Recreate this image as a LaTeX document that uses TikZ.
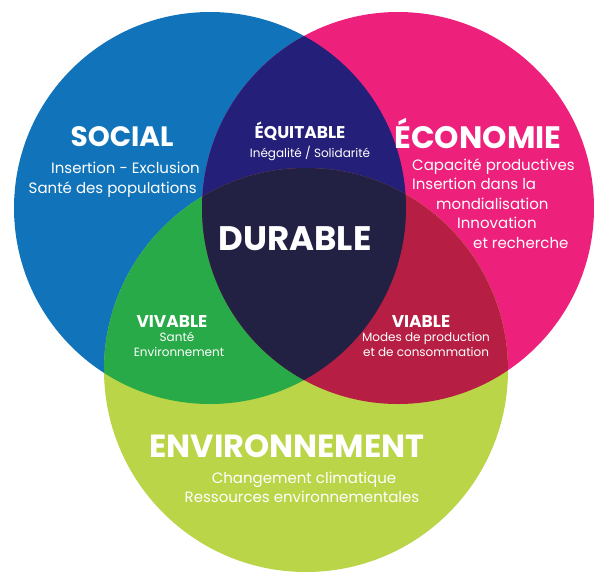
\documentclass[tikz,border=0pt]{standalone}
\usepackage{fontspec}
\setmainfont{Poppins}
\usepackage{xcolor}
\usepackage{tikz}
\definecolor{socialblue}{RGB}{17,116,186}
\definecolor{ecopink}{RGB}{237,32,123}
\definecolor{envlime}{RGB}{186,213,71}
\definecolor{equitnavy}{RGB}{36,31,120}
\definecolor{vivgreen}{RGB}{40,170,72}
\definecolor{viabred}{RGB}{183,30,67}
\definecolor{durdark}{RGB}{34,33,68}
\tikzstyle{title} = [text=white, font=\bfseries\fontsize{28}{30}\selectfont, inner sep=0pt, anchor=base]
\tikzstyle{pillar} = [text=white, font=\bfseries\fontsize{17}{19}\selectfont, inner sep=0pt, anchor=base]
\tikzstyle{detail} = [text=white, font=\fontsize{15}{20}\selectfont, inner sep=0pt, anchor=base]
\tikzstyle{smalldetail} = [text=white, font=\fontsize{12}{15}\selectfont, inner sep=0pt, anchor=base]
\def\socialcircle{(210,208) circle (196pt)}
\def\ecocircle{(398,208) circle (196pt)}
\def\envcircle{(306,370) circle (202pt)}

\begin{document}
\begin{tikzpicture}[x=1pt, y=-1pt]
      \useasboundingbox (0,0) rectangle (594,571);
      % Circles
      \fill [socialblue] \socialcircle;
      \fill [ecopink] \ecocircle;
      \fill [envlime] \envcircle;
      % Overlaps
      \begin{scope}
        \clip \socialcircle;
        \fill [equitnavy] \ecocircle;
        \fill [vivgreen] \envcircle;
      \end{scope}
      \begin{scope}
        \clip \ecocircle;
        \fill [viabred] \envcircle;
      \end{scope}
      \begin{scope}
        \clip \socialcircle;
        \clip \ecocircle;
        \fill [durdark] \envcircle;
      \end{scope}

      % Place nodes
      \node [title] (social) at (122,146) {SOCIAL};
      \node [detail, anchor=base east] (socialA) at (200,173) {Insertion - Exclusion};
      \node [detail, anchor=base east] (socialB) at (197,193) {Santé des populations};

      \node [title, font=\bfseries\fontsize{31}{33}\selectfont] (economie) at (478,148) {ÉCONOMIE};
      \node [detail, anchor=base west] (ecoA) at (412,170) {Capacité productives};
      \node [detail, anchor=base west] (ecoB) at (412,189) {Insertion dans la};
      \node [detail, anchor=base west] (ecoC) at (436,209) {mondialisation};
      \node [detail, anchor=base west] (ecoD) at (457,228) {Innovation};
      \node [detail, anchor=base west] (ecoE) at (473,248) {et recherche};

      \node [title, font=\bfseries\fontsize{32}{34}\selectfont] (environnement) at (287,457) {ENVIRONNEMENT};
      \node [detail] (envA) at (304,483) {Changement climatique};
      \node [detail] (envB) at (302,502) {Ressources environnementales};

      \node [title, font=\bfseries\fontsize{34}{36}\selectfont] (durable) at (295,250) {DURABLE};

      \node [pillar] (equitable) at (300,138) {ÉQUITABLE};
      \node [smalldetail] (equitableA) at (310,157) {Inégalité / Solidarité};

      \node [pillar] (vivable) at (172,327) {VIVABLE};
      \node [smalldetail] (vivableA) at (177,341) {Santé};
      \node [smalldetail] (vivableB) at (179,356) {Environnement};

      \node [pillar] (viable) at (421,327) {VIABLE};
      \node [smalldetail] (viableA) at (426,341) {Modes de production};
      \node [smalldetail] (viableB) at (426,356) {et de consommation};
  \end{tikzpicture}
\end{document}
